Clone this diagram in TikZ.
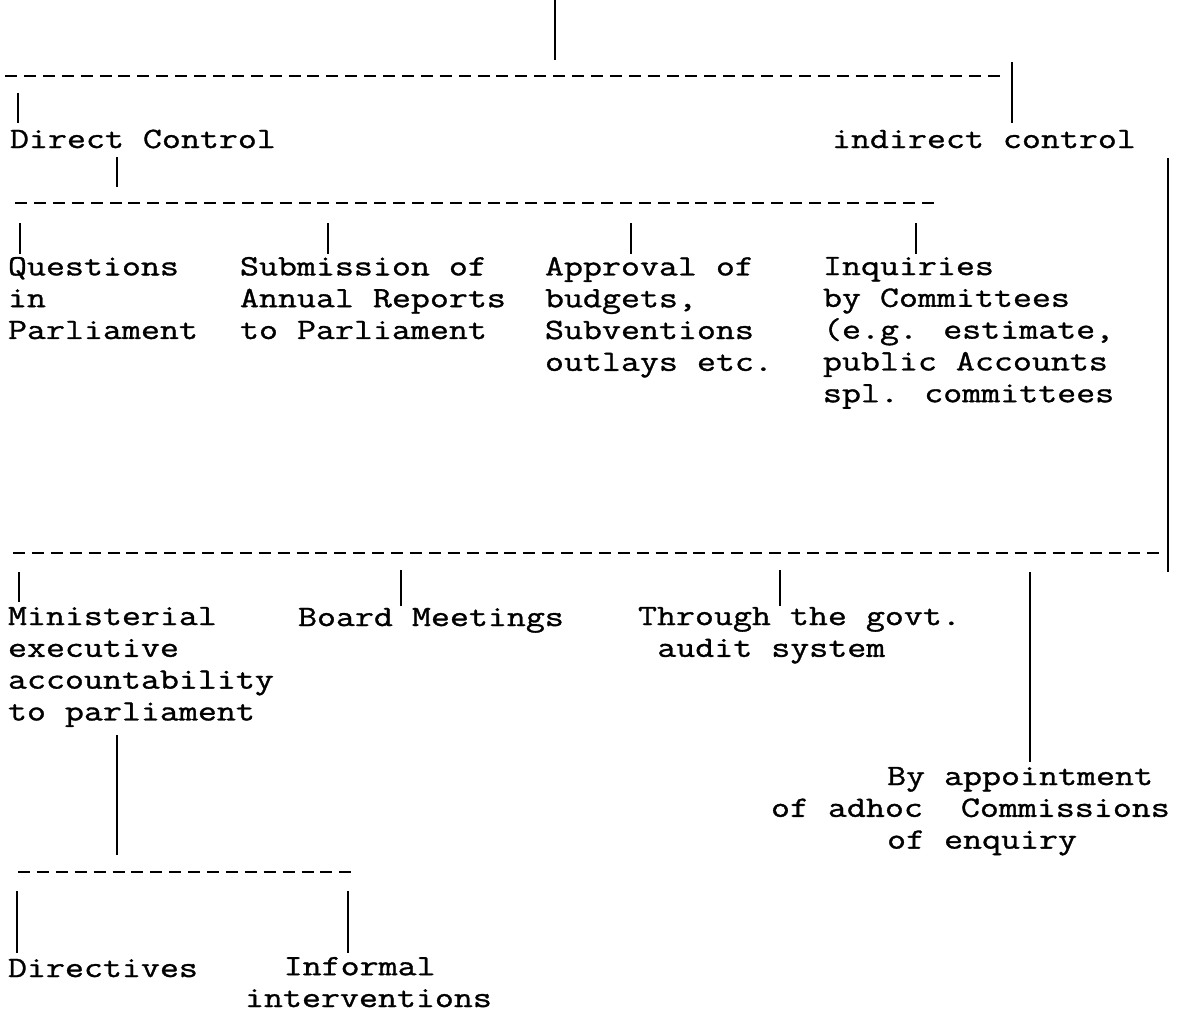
\documentclass[tikz,border=0pt]{standalone}
\usepackage{fontspec}
\newfontfamily\typewriter[FakeStretch=1.25,FakeBold=1.1]{Latin Modern Mono}
\newcommand{\tw}{\typewriter\fontsize{29.5}{31.8}\selectfont}
% one typed character is about 19.35pt wide
\newcommand{\indentby}[1]{\hspace*{#1\dimexpr 19.35pt\relax}}
\begin{document}
\begin{tikzpicture}[x=1pt,y=-1pt,
  lbl/.style={anchor=north west, inner sep=0pt, outer sep=0pt, align=left, font=\tw,
              execute at begin node={\rule{0pt}{24pt}}},
  bus/.style={line width=2.8pt, dash pattern=on 12pt off 6.9pt},
  bar/.style={line width=1.8pt}]
\useasboundingbox[fill=white] (0,0) rectangle (1190,1015);

% ---- labels ----
\node[lbl] (direct)   at (10,124)  {Direct Control};
\node[lbl] (indirect) at (832,124) {indirect control};

\node[lbl] (quest) at (8,257)   {Questions\\in\\Parliament};
\node[lbl] (subm)  at (240,257) {Submission of\\Annual Reports\\to Parliament};
\node[lbl] (appr)  at (545,257) {Approval of\\budgets,\\Subventions\\outlays etc.};
\node[lbl] (inq)   at (823,257) {Inquiries\\by Committees\\(e.g. estimate,\\public Accounts\\spl. committees};

\node[lbl] (minis) at (8,607)   {Ministerial\\executive\\accountability\\to parliament};
\node[lbl] (board) at (298,602) {Board Meetings};
\node[lbl] (audit) at (638,607) {Through the govt.\\\indentby{1}audit system};
\node[lbl] (appt)  at (771,767) {\indentby{6}By appointment\\of adhoc\ \ Commissions\\\indentby{6}of enquiry};

\node[lbl] (dirv) at (8,953)   {Directives};
\node[lbl] (inf)  at (245,957) {\indentby{2}Informal\\interventions};

% ---- horizontal buses ----
\coordinate (busA-w) at (5,76);    \coordinate (busA-e) at (1000,76);
\coordinate (busB-w) at (15,203);  \coordinate (busB-e) at (934,203);
\coordinate (busC-w) at (13,553);  \coordinate (busC-e) at (1159,553);
\coordinate (busD-w) at (18,872);  \coordinate (busD-e) at (351,872);
\draw[bus] (busA-w) -- (busA-e);
\draw[bus] (busB-w) -- (busB-e);
\draw[bus] (busC-w) -- (busC-e);
\draw[bus] (busD-w) -- (busD-e);

% ---- vertical bars ----
\coordinate (root) at (555,0);
\draw[bar] (root) -- ++(0,60);
\draw[bar] (18,93)   coordinate (dirtop) -- ++(0,30);
\draw[bar] (1012,62) coordinate (indtop) -- ++(0,61);
\draw[bar] (117,157) coordinate (dctop) -- ++(0,30);
\draw[bar] (1168,158) coordinate (rtop) -- (1168,572) coordinate (rbot);

\draw[bar] (20,223)  coordinate (qtop) -- ++(0,31);
\draw[bar] (328,223) coordinate (stop) -- ++(0,31);
\draw[bar] (631,223) coordinate (atop) -- ++(0,31);
\draw[bar] (916,223) coordinate (itop) -- ++(0,31);

\draw[bar] (19,572)  coordinate (mtop) -- ++(0,30);
\draw[bar] (401,570) coordinate (btop) -- ++(0,36);
\draw[bar] (780,570) coordinate (ttop) -- ++(0,36);
\draw[bar] (1030,572) coordinate (ptop) -- ++(0,190);

\draw[bar] (117,735) coordinate (mdown) -- ++(0,120);
\draw[bar] (17,891)  coordinate (dtop) -- ++(0,62);
\draw[bar] (348,891) coordinate (ftop) -- ++(0,62);
\end{tikzpicture}
\end{document}
